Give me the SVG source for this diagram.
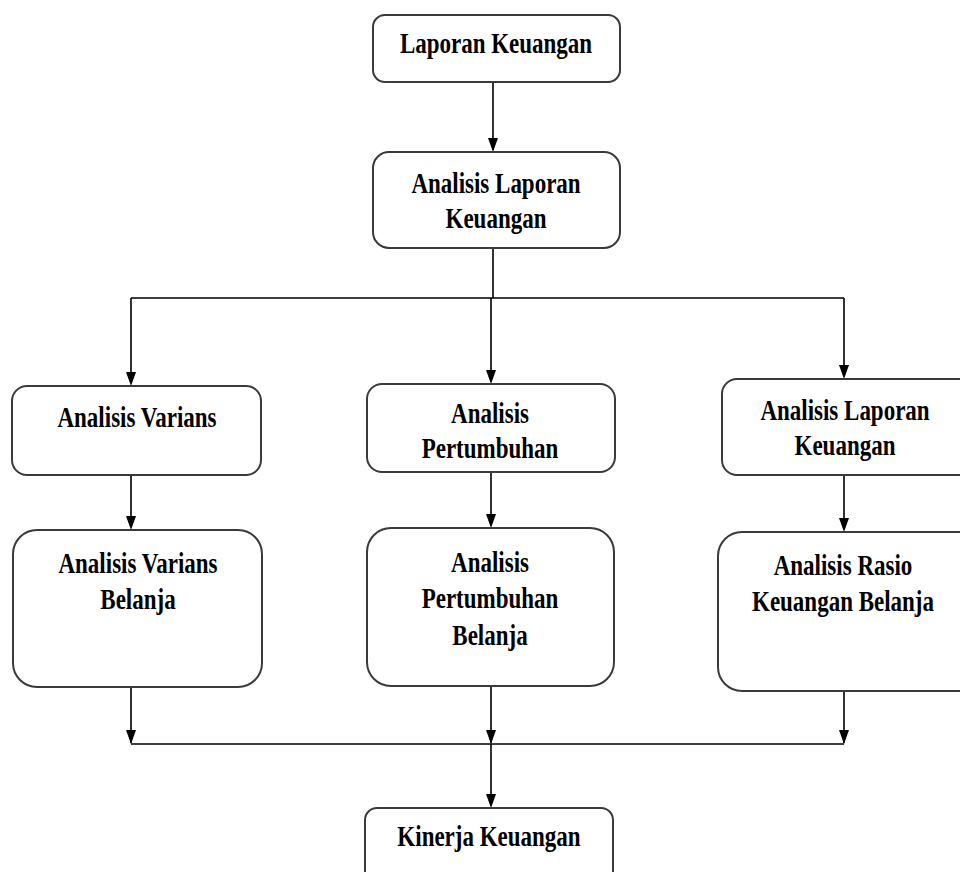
<svg xmlns="http://www.w3.org/2000/svg" width="960" height="872" viewBox="0 0 960 872">
<style>
.box{fill:#fff;stroke:#3a3a3a;stroke-width:2}
.ln{fill:none;stroke:#000;stroke-width:1.6}
.t{font-family:"Liberation Serif","Times New Roman",serif;font-weight:bold;font-size:23px;fill:#000;text-anchor:middle}
</style>
<rect width="960" height="872" fill="#fff"/>
<g id="connectors">
<path class="ln" d="M493,82 V150"/>
<path d="M488,138 L498,138 L493,152 Z"/>
<path class="ln" d="M493,248 V298 M131,298 H844 M131,298 V374 M491,298 V370 M844,298 V366"/>
<path d="M126,372 L136,372 L131,386 Z"/>
<path d="M486,370 L496,370 L491,384 Z"/>
<path d="M839,365 L849,365 L844,379 Z"/>
<path class="ln" d="M131,475 V518 M491,472 V516 M844,475 V520"/>
<path d="M126,516 L136,516 L131,530 Z"/>
<path d="M486,514 L496,514 L491,528 Z"/>
<path d="M839,518 L849,518 L844,532 Z"/>
<path class="ln" d="M131,687 V743 M491,687 V743 M844,691 V743 M131,744 H844 M491,744 V796"/>
<path d="M126,730 L136,730 L131,744 Z"/>
<path d="M486,730 L496,730 L491,744 Z"/>
<path d="M839,730 L849,730 L844,744 Z"/>
<path d="M486,794 L496,794 L491,808 Z"/>
</g>
<g id="n1"><rect class="box" x="373" y="15" width="247" height="67" rx="12"/>
<g transform="translate(496,53) scale(1,1.3)"><text class="t">Laporan Keuangan</text></g></g>
<g id="n2"><rect class="box" x="373" y="152" width="247" height="96" rx="16"/>
<g transform="translate(496,193) scale(1,1.3)"><text class="t"><tspan x="0" y="0">Analisis Laporan</tspan><tspan x="0" y="27">Keuangan</tspan></text></g></g>
<g id="n3"><rect class="box" x="12" y="386" width="249" height="89" rx="15"/>
<g transform="translate(137,427) scale(1,1.3)"><text class="t">Analisis Varians</text></g></g>
<g id="n4"><rect class="box" x="367" y="384" width="248" height="88" rx="15"/>
<g transform="translate(490,423) scale(1,1.3)"><text class="t"><tspan x="0" y="0">Analisis</tspan><tspan x="0" y="27">Pertumbuhan</tspan></text></g></g>
<g id="n5"><rect class="box" x="722" y="379" width="260" height="96" rx="15"/>
<g transform="translate(845,420) scale(1,1.3)"><text class="t"><tspan x="0" y="0">Analisis Laporan</tspan><tspan x="0" y="27">Keuangan</tspan></text></g></g>
<g id="n6"><rect class="box" x="13" y="530" width="249" height="157" rx="24"/>
<g transform="translate(138,573) scale(1,1.3)"><text class="t"><tspan x="0" y="0">Analisis Varians</tspan><tspan x="0" y="28">Belanja</tspan></text></g></g>
<g id="n7"><rect class="box" x="367" y="528" width="247" height="158" rx="24"/>
<g transform="translate(490,572) scale(1,1.3)"><text class="t"><tspan x="0" y="0">Analisis</tspan><tspan x="0" y="28">Pertumbuhan</tspan><tspan x="0" y="56">Belanja</tspan></text></g></g>
<g id="n8"><rect class="box" x="718" y="532" width="264" height="159" rx="24"/>
<g transform="translate(843,575) scale(1,1.3)"><text class="t"><tspan x="0" y="0">Analisis Rasio</tspan><tspan x="0" y="28">Keuangan Belanja</tspan></text></g></g>
<g id="n9"><rect class="box" x="365" y="808" width="248" height="90" rx="12"/>
<g transform="translate(489,846) scale(1,1.3)"><text class="t">Kinerja Keuangan</text></g></g>
</svg>
